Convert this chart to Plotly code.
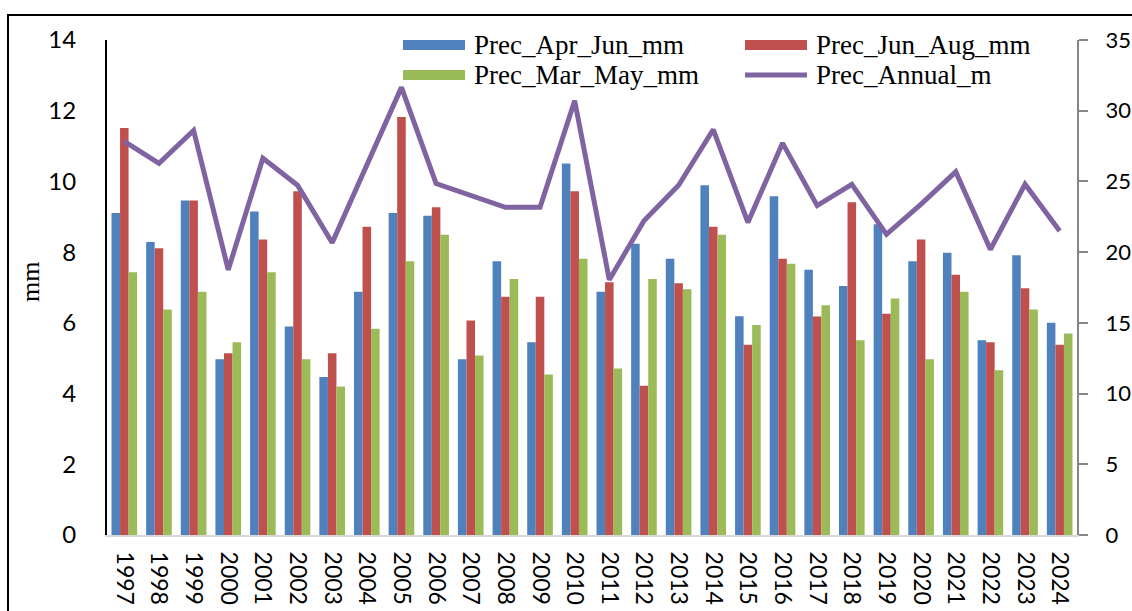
import plotly.graph_objects as go

years = [str(y) for y in range(1997, 2025)]
apr_jun = [9.11, 8.29, 9.46, 4.97, 9.15, 5.90, 4.47, 6.88, 9.11, 9.03, 4.97, 7.74, 5.45, 10.51,
           6.88, 8.24, 7.81, 9.89, 6.19, 9.58, 7.50, 7.04, 8.79, 7.74, 7.98, 5.51, 7.91, 6.00]
jun_aug = [11.51, 8.11, 9.46, 5.14, 8.36, 9.72, 5.14, 8.72, 11.82, 9.27, 6.07, 6.74, 6.74, 9.72,
           7.15, 4.22, 7.12, 8.72, 5.38, 7.81, 6.18, 9.41, 6.26, 8.36, 7.36, 5.45, 6.98, 5.38]
mar_may = [7.43, 6.38, 6.88, 5.45, 7.43, 4.97, 4.20, 5.83, 7.74, 8.49, 5.08, 7.24, 4.54, 7.81,
           4.71, 7.24, 6.95, 8.49, 5.94, 7.67, 6.50, 5.51, 6.69, 4.97, 6.88, 4.66, 6.38, 5.70]
annual = [27.83, 26.28, 28.6, 18.75, 26.64, 24.73, 20.67, 26.2, 31.65, 24.85, 24.0, 23.17, 23.17, 30.7,
          18.04, 22.22, 24.73, 28.67, 22.1, 27.71, 23.29, 24.8, 21.26, 23.4, 25.68, 20.19, 24.8, 21.5]

names = ["Prec_Apr_Jun_mm", "Prec_Jun_Aug_mm", "Prec_Mar_May_mm", "Prec_Annual_m"]
colors = ["#4F81BD", "#C0504D", "#9BBB59", "#8064A2"]

FONT = "Liberation Serif"
TICKFONT = "Lato"
W, H = 1132, 611
L, R, T, B = 107, 55, 40, 76
pw, ph = W - L - R, H - T - B


def px(x):
    return (x - L) / pw


def py(y):
    return (H - B - y) / ph


fig = go.Figure()
for vals, name, col in zip([apr_jun, jun_aug, mar_may], names[:3], colors[:3]):
    fig.add_trace(go.Bar(x=years, y=vals, name=name, marker=dict(color=col, line=dict(width=0)),
                         showlegend=False))
fig.add_trace(go.Scatter(x=years, y=annual, name=names[3], yaxis="y2", mode="lines",
                         line=dict(color=colors[3], width=5), showlegend=False))

shapes = []
annotations = []
# manual legend
leg = [(403, 45, 0), (745, 45, 1), (403, 75, 2), (745, 75, 3)]
for (x0, yc, i) in leg:
    if i < 3:
        shapes.append(dict(type="rect", xref="paper", yref="paper",
                           x0=px(x0), x1=px(x0 + 62), y0=py(yc + 5), y1=py(yc - 5),
                           fillcolor=colors[i], line=dict(width=0)))
    else:
        shapes.append(dict(type="line", xref="paper", yref="paper",
                           x0=px(x0), x1=px(x0 + 62), y0=py(yc), y1=py(yc),
                           line=dict(color=colors[i], width=5)))
    annotations.append(dict(text=names[i], xref="paper", yref="paper", x=px(x0 + 69), y=py(yc),
                            xanchor="left", yanchor="middle", showarrow=False,
                            font=dict(family=FONT, size=27, color="#000")))
# y title
annotations.append(dict(text="mm", xref="paper", yref="paper", x=px(30), y=py(282),
                        textangle=-90, showarrow=False, xanchor="center", yanchor="middle",
                        font=dict(family=FONT, size=26, color="#000")))
# outer frame (right side lies outside the picture)
shapes.append(dict(type="rect", xref="paper", yref="paper", x0=px(8), x1=px(1160),
                   y0=py(660), y1=py(15), line=dict(color="#000", width=2), layer="above"))

fig.update_layout(
    width=W, height=H, margin=dict(l=L, r=R, t=T, b=B, autoexpand=False),
    paper_bgcolor="white", plot_bgcolor="white",
    barmode="group", bargap=0.26, bargroupgap=0,
    font=dict(family=FONT, size=25, color="#000"),
    xaxis=dict(type="category", tickangle=90, showline=True, linecolor="#D9D9D9", linewidth=2,
               ticks="", showgrid=False, tickfont=dict(family=TICKFONT, size=23),
               ticklabelstandoff=10, automargin=False),
    yaxis=dict(range=[0, 14], dtick=2, showline=True, linecolor="#000", linewidth=2,
               ticks="", showgrid=False, zeroline=False, tickfont=dict(family=TICKFONT, size=24),
               ticklabelstandoff=24, automargin=False),
    yaxis2=dict(range=[0, 35], dtick=5, overlaying="y", side="right", showline=True,
                linecolor="#868686", linewidth=2, ticks="outside", ticklen=9, tickwidth=2,
                tickcolor="#868686", showgrid=False, zeroline=False,
                tickfont=dict(family=TICKFONT, size=22), ticklabelstandoff=13, automargin=False),
    shapes=shapes, annotations=annotations,
)

fig.write_html("out.html", config={"displayModeBar": False},
               post_script="document.body.style.margin='0';document.body.style.padding='0';"
                           "document.body.style.overflow='hidden';")
